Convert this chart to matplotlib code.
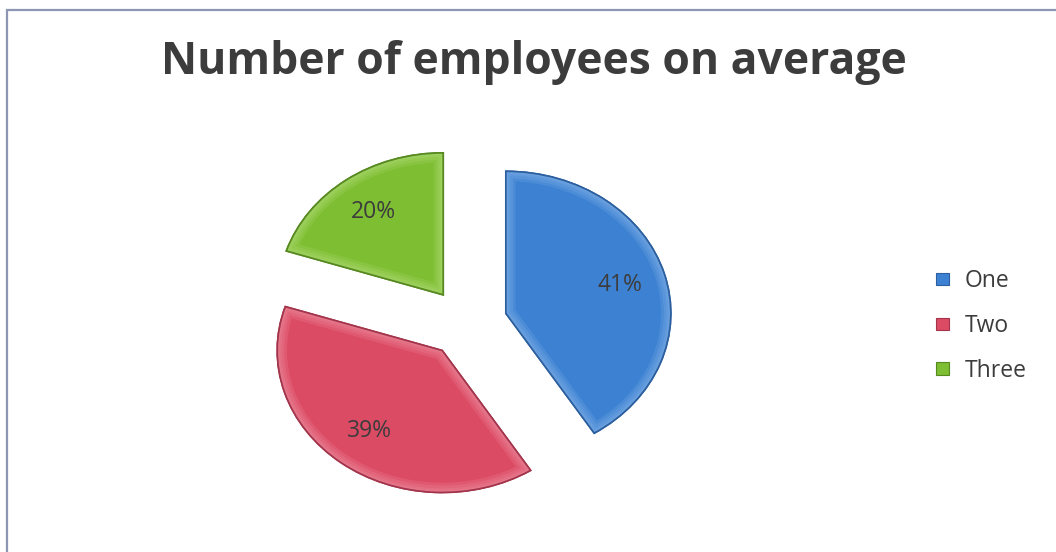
import matplotlib
matplotlib.use("Agg")
import matplotlib.pyplot as plt
from matplotlib.patches import Rectangle, Patch, Wedge

# Data
categories = ["One", "Two", "Three"]
shares = [41, 39, 20]
title = "Number of employees on average"

# Styling
colors = ["#3d82d2", "#dc4b64", "#7dbe32"]
edge_colors = ["#2b5f9f", "#a3344b", "#568a20"]
rim_colors = ["#9cc4f0", "#f4a7b5", "#c2e48e"]
text_color = "#3c3c3c"

W, H = 1056, 552
plt.rcParams["font.family"] = ["Open Sans", "DejaVu Sans"]
fig = plt.figure(figsize=(W / 100, H / 100), dpi=100)
fig.patch.set_facecolor("white")

# Chart frame (right and bottom sides run past the canvas edge)
fig.add_artist(Rectangle((7 / W, -0.05), 1.2, (H - 10) / H + 0.05,
                         transform=fig.transFigure, fill=False,
                         edgecolor="#8d97b3", lw=1.6))

# Pie axes: slightly wider than tall
cx, cy = 467, H - 323
rx, ry = 165, 142
ax = fig.add_axes([(cx - 1.5 * rx) / W, (cy - 1.5 * ry) / H, 3 * rx / W, 3 * ry / H])
wedges, texts, autotexts = ax.pie(
    shares,
    explode=[0.245] * len(shares),
    colors=colors,
    startangle=90,
    counterclock=False,
    autopct=lambda p: f"{p:.0f}%",
    pctdistance=0.72,
    wedgeprops=dict(linewidth=1.2),
    textprops=dict(fontsize=16.5, color=text_color),
)
# soft bevel: graded light band inside each slice's outline, then a darker edge
for w, ec, rc in zip(wedges, edge_colors, rim_colors):
    w.set_edgecolor(ec)
    for k, lw in enumerate([14, 10, 6, 3]):
        rim = Wedge(w.center, w.r, w.theta1, w.theta2, fill=False,
                    edgecolor=rc, lw=lw, alpha=0.16,
                    zorder=w.get_zorder() + 0.1 + 0.01 * k)
        ax.add_patch(rim)
        rim.set_clip_path(w)
    edge = Wedge(w.center, w.r, w.theta1, w.theta2, fill=False,
                 edgecolor=ec, lw=1.2, zorder=w.get_zorder() + 0.2)
    ax.add_patch(edge)
for t in autotexts:
    t.set_zorder(5)
ax.set_aspect("auto")
ax.set_xlim(-1.5, 1.5)
ax.set_ylim(-1.5, 1.5)
ax.axis("off")

fig.text(534 / W, 1 - 62 / H, title, ha="center", va="center",
         fontsize=32, fontweight="bold", color=text_color)

handles = [Patch(facecolor=c, edgecolor=ec, lw=0.8) for c, ec in zip(colors, edge_colors)]
fig.legend(handles, categories, loc="center left",
           bbox_to_anchor=(936 / W, 1 - 326 / H), frameon=False,
           fontsize=16.5, labelcolor=text_color,
           handlelength=0.58, handleheight=0.45, handletextpad=0.68,
           labelspacing=0.9, borderpad=0, borderaxespad=0)

fig.savefig("out.png", dpi=100, facecolor="white")
